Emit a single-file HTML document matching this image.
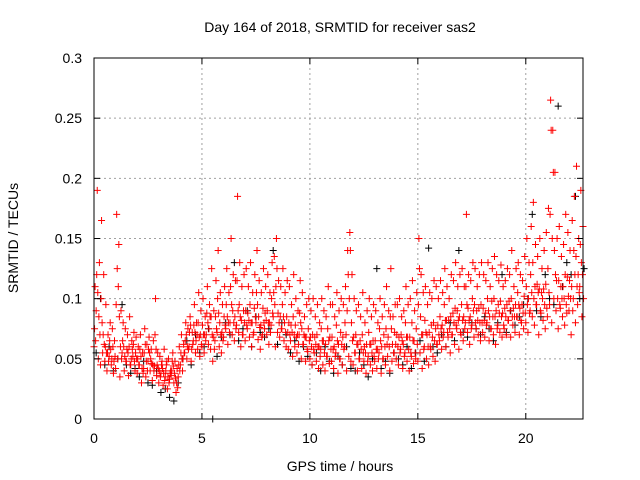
<!DOCTYPE html>
<html><head><meta charset="utf-8"><style>
html,body{margin:0;padding:0;background:#fff;}
svg{display:block;font-family:"Liberation Sans",sans-serif;}
</style></head><body>
<svg id="chart" width="640" height="480" xmlns="http://www.w3.org/2000/svg">
<rect width="640" height="480" fill="#fff"/>
<text x="340" y="32" font-size="14" text-anchor="middle">Day 164 of 2018, SRMTID for receiver sas2</text>
<g id="grid"></g>
<g id="black"></g>
<g id="red"></g>
<rect x="94" y="58" width="489" height="361" fill="none" stroke="#000" stroke-width="1"/>
<g id="ticks"></g>
<text transform="translate(18,238) rotate(-90)" font-size="14" text-anchor="middle">SRMTID / TECUs</text>
<text x="340" y="471" font-size="14" text-anchor="middle">GPS time / hours</text>
</svg>
<script>
const xTicks=[0,5,10,15,20];
const yTicks=[0,0.05,0.1,0.15,0.2,0.25,0.3];
const yTickLabels=["0","0.05","0.1","0.15","0.2","0.25","0.3"];
const redLow=[60,90,50,45,55,48,40,52,45,38,42,50,35,55,40,48,36,45,52,40,38,45,30,42,35,48,40,32,44,36,30,38,28,35,25,33,40,30,22,35,45,40,55,50,60,48,65,55,58,52,60,55,70,62,58,48,65,72,60,55,68,75,62,80,70,65,78,72,60,70,65,75,68,60,72,80,66,58,70,75,70,62,78,85,60,72,68,75,65,60,58,65,52,60,55,70,50,62,48,56,50,45,55,48,42,58,45,40,52,46,48,42,55,38,50,45,60,40,52,48,45,55,40,50,42,48,38,52,45,40,48,42,55,38,50,45,52,40,48,55,50,45,58,42,55,48,40,52,46,50,48,55,42,60,50,45,58,52,48,62,65,58,72,60,68,55,70,62,75,58,70,65,80,72,62,78,68,75,70,65,72,68,80,65,75,70,62,78,72,68,75,70,82,68,78,72,85,70,80,75,80,72,90,85,78,95,70,88,82,75,85,95,80,100,90,75,92,85,78,88,90,70,100,80,95,110,85];
const redHigh=[110,190,130,165,120,95,70,80,75,65,170,145,90,80,75,70,85,65,72,68,60,70,55,75,62,68,58,65,100,55,52,48,58,45,50,40,55,48,42,60,70,62,80,75,85,72,95,80,105,90,100,85,110,95,125,90,115,140,105,95,110,125,105,150,120,115,185,130,110,120,125,110,130,105,120,140,115,105,125,110,120,105,130,135,150,115,110,125,105,115,110,95,120,100,90,115,105,85,95,100,90,100,85,95,80,100,90,85,110,95,95,85,105,90,100,95,110,140,155,120,100,90,95,85,105,80,90,100,85,95,90,80,100,85,95,110,90,125,85,95,95,100,85,90,110,95,100,115,90,105,150,120,105,110,95,105,100,115,110,100,115,105,125,110,100,120,115,130,110,120,125,110,170,120,115,130,125,110,120,130,120,115,130,110,125,135,120,115,128,110,115,125,120,140,110,125,130,120,115,135,150,130,160,180,145,135,150,125,140,155,175,265,240,205,150,160,135,145,170,155,140,165,185,210,150,190,160];
const redMid1=[75,120,85,100,70,60,55,65,50,48,95,110,60,65,52,58,60,50,62,55,50,58,42,55,48,58,50,45,70,45,40,45,38,40,35,38,48,38,30,45,55,50,65,60,72,58,78,65,80,70,78,70,88,75,85,68,85,100,80,72,85,95,80,110,90,85,115,95,82,90,90,88,95,80,92,105,85,78,92,88,90,80,100,105,110,88,85,95,80,85,80,78,85,78,70,88,75,70,68,75,68,70,68,70,60,75,65,62,75,68,68,60,78,62,72,68,80,90,100,80,68,70,62,65,70,60,62,72,62,65,65,58,75,60,70,75,68,85,62,72,70,68,70,62,80,68,68,80,65,75,95,85,70,82,70,72,78,80,75,78,85,78,95,82,82,85,88,92,90,85,95,85,110,92,85,100,95,90,92,95,92,88,100,85,98,100,90,95,98,88,92,95,98,100,92,95,105,92,95,102,110,100,120,130,110,112,108,105,108,112,125,170,150,140,115,115,110,110,120,118,115,110,140,135,120,145,120];
const redMid2=[65,105,70,80,62,55,48,58,60,52,125,85,50,60,48,55,45,58,48,50,45,52,38,62,40,55,46,40,58,42,35,42,32,48,30,36,44,34,26,40,50,55,70,58,78,62,72,70,68,62,70,65,80,85,70,58,75,88,70,65,78,85,72,95,80,75,90,85,70,80,78,82,80,70,85,95,76,68,80,82,80,72,88,95,125,80,75,85,72,72,70,72,70,68,62,80,62,68,58,65,60,58,62,60,52,65,55,52,65,58,58,52,65,50,62,58,70,120,140,65,55,62,50,58,55,55,48,62,55,52,58,50,65,50,60,62,60,75,55,62,60,55,65,52,68,58,55,65,55,62,125,70,58,72,60,60,68,65,62,70,75,68,82,72,75,70,80,78,82,72,82,75,95,82,75,90,80,82,80,80,82,78,90,75,85,85,75,88,85,78,85,82,90,85,85,85,95,82,88,88,95,88,105,100,95,105,90,100,95,92,105,240,205,120,100,95,100,100,95,102,100,90,120,110,105,130,100];
const blackVals=[55,100,45,60,40,50,95,45,38,42,35,48,30,28,40,22,25,18,15,30,50,65,45,70,55,60,75,0,52,68,80,70,130,65,75,90,60,85,72,68,75,140,62,80,70,55,65,48,60,52,45,55,40,60,48,38,52,45,60,42,40,55,45,35,50,125,42,48,38,55,50,45,60,42,55,65,48,142,60,55,70,60,80,65,140,72,68,80,75,70,85,75,65,80,120,72,90,78,85,95,100,170,90,85,120,100,95,260,110,130,120,185,100,125];
const redStep=0.1, blackStep=0.2;
const X0=94,X1=583,Y0=419,Y1=58,XMAX=22.65,YMAX=0.3;
const sx=t=>X0+t/XMAX*(X1-X0);
const sy=v=>Y0-v/YMAX*(Y0-Y1);
const NS="http://www.w3.org/2000/svg";
function mk(tag,attrs,parent){const e=document.createElementNS(NS,tag);for(const k in attrs)e.setAttribute(k,attrs[k]);parent.appendChild(e);return e;}
const grid=document.getElementById('grid'),ticks=document.getElementById('ticks');
xTicks.forEach(t=>{const x=sx(t);
 if(t>0){const g=mk('line',{x1:x,x2:x,y1:Y1,y2:Y0,stroke:'#a0a0a0','stroke-dasharray':'2,3'},grid);}
 const a=mk('line',{x1:x,x2:x,y1:Y0,y2:Y0-6,stroke:'#000'},ticks);
 const b=mk('line',{x1:x,x2:x,y1:Y1,y2:Y1+6,stroke:'#000'},ticks);
 const l=mk('text',{x:x,y:443,'font-size':14,'text-anchor':'middle'},ticks);l.textContent=String(t);});
yTicks.forEach((v,i)=>{const y=sy(v);
 if(v>0&&v<YMAX){const g=mk('line',{x1:X0,x2:X1,y1:y,y2:y,stroke:'#a0a0a0','stroke-dasharray':'2,3'},grid);}
 const a=mk('line',{x1:X0,x2:X0+6,y1:y,y2:y,stroke:'#000'},ticks);
 const b=mk('line',{x1:X1,x2:X1-6,y1:y,y2:y,stroke:'#000'},ticks);
 const l=mk('text',{x:82,y:y+5,'font-size':14,'text-anchor':'end'},ticks);l.textContent=yTickLabels[i];});
function plus(t,v){const x=sx(t),y=sy(v);return `M${x-3.5},${y}H${x+3.5}M${x},${y-3.5}V${y+3.5}`;}
let dB='';blackVals.forEach((v,i)=>{dB+=plus(i*blackStep+0.1,v/1000);});
const pb=mk('path',{d:dB,stroke:'#000',fill:'none','stroke-width':1},document.getElementById('black'));


let dR='';
redLow.forEach((v,i)=>{dR+=plus(i*redStep,v/1000);});
redMid1.forEach((v,i)=>{dR+=plus(i*redStep+0.025,v/1000);});
redHigh.forEach((v,i)=>{dR+=plus(i*redStep+0.05,v/1000);});
redMid2.forEach((v,i)=>{dR+=plus(i*redStep+0.075,v/1000);});
const pr=mk('path',{d:dR,stroke:'#ff0000',fill:'none','stroke-width':1},document.getElementById('red'));


</script>
</body></html>
